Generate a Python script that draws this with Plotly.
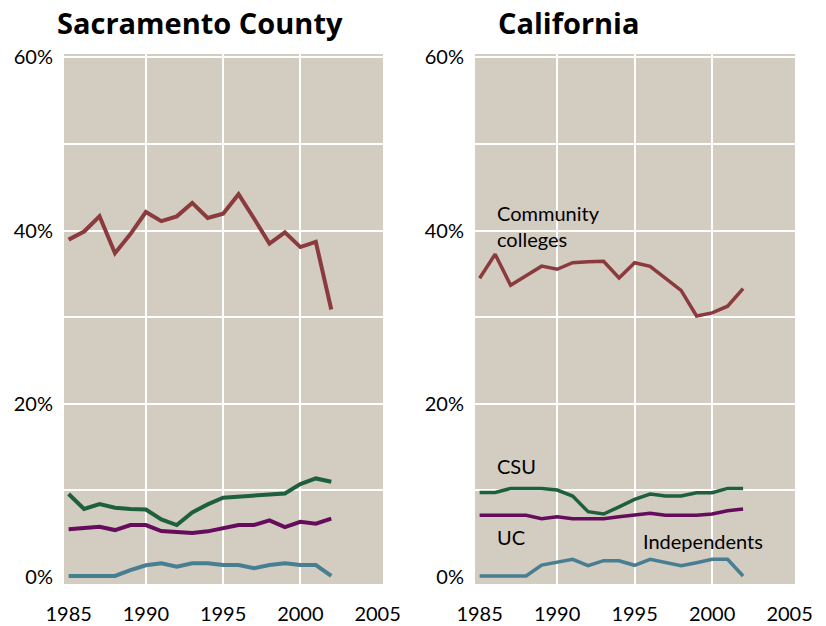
import plotly.graph_objects as go

years = list(range(1985, 2003))

sac_cc = [38.96, 39.9, 41.65, 37.4, 39.6, 42.15, 41.1, 41.65, 43.2, 41.46, 41.96, 44.2, 41.4, 38.5, 39.8, 38.1, 38.7, 30.9]
sac_csu = [9.58, 7.85, 8.42, 8.0, 7.85, 7.8, 6.65, 6.0, 7.46, 8.38, 9.15, 9.3, 9.42, 9.5, 9.65, 10.73, 11.38, 11.0]
sac_uc = [5.5, 5.65, 5.8, 5.42, 6.0, 6.0, 5.3, 5.19, 5.08, 5.27, 5.6, 6.0, 6.0, 6.54, 5.77, 6.38, 6.15, 6.73]
sac_ind = [0.12, 0.12, 0.12, 0.12, 0.8, 1.35, 1.58, 1.19, 1.58, 1.58, 1.38, 1.38, 1.0, 1.38, 1.58, 1.38, 1.38, 0.12]

ca_cc = [34.5, 37.27, 33.7, 34.85, 35.9, 35.54, 36.3, 36.4, 36.46, 34.54, 36.3, 35.88, 34.46, 33.1, 30.15, 30.5, 31.27, 33.3]
ca_csu = [9.77, 9.77, 10.23, 10.23, 10.23, 10.04, 9.35, 7.54, 7.27, 8.1, 8.96, 9.58, 9.35, 9.35, 9.73, 9.73, 10.23, 10.23]
ca_uc = [7.12, 7.12, 7.12, 7.12, 6.73, 6.96, 6.73, 6.73, 6.73, 6.96, 7.15, 7.35, 7.12, 7.12, 7.12, 7.27, 7.65, 7.85]
ca_ind = [0.12, 0.12, 0.12, 0.12, 1.38, 1.69, 2.04, 1.3, 1.88, 1.88, 1.35, 2.04, 1.65, 1.3, 1.65, 2.04, 2.04, 0.12]

panel_titles = ["Sacramento County", "California"]
x_ticks = [1985, 1990, 1995, 2000, 2005]
y_ticks = [0, 20, 40, 60]
y_tick_text = ["0%", "20%", "40%", "60%"]

C_CC = "rgb(139,58,62)"
C_CSU = "rgb(30,96,62)"
C_UC = "rgb(102,12,92)"
C_IND = "rgb(72,126,146)"
BG = "rgb(211,204,193)"
FONT = "Lato"

fig = go.Figure()

panels = [
    ("x", "y", [sac_ind, sac_uc, sac_csu, sac_cc], 4),
    ("x2", "y2", [ca_ind, ca_uc, ca_csu, ca_cc], 3.5),
]
colors = [C_IND, C_UC, C_CSU, C_CC]
for xa, ya, series, w in panels:
    for s, c in zip(series, colors):
        fig.add_trace(go.Scatter(x=years, y=s, xaxis=xa, yaxis=ya, mode="lines",
                                 line=dict(color=c, width=w), showlegend=False,
                                 hoverinfo="skip"))

xcommon = dict(range=[1984.7, 2005.35], tickvals=x_ticks, ticktext=[str(v) for v in x_ticks],
               showgrid=False, zeroline=False, showline=False, ticks="", automargin=False,
               ticklabelstandoff=16,
               tickfont=dict(family=FONT, size=20, color="black"),
               minor=dict(tickmode="array", tickvals=[1990, 1995, 2000], showgrid=True,
                          gridcolor="white", gridwidth=2, ticks=""))
ycommon = dict(range=[-0.81, 60.4], tickvals=y_ticks, ticktext=y_tick_text,
               showgrid=False, zeroline=False, showline=False, ticks="", automargin=False,
               ticklabelstandoff=10,
               tickfont=dict(family=FONT, size=20, color="black"),
               minor=dict(tickmode="array", tickvals=[10, 20, 30, 40, 50, 60], showgrid=True,
                          gridcolor="white", gridwidth=2, ticks=""))

fig.update_layout(
    width=826, height=626,
    margin=dict(l=64, r=31, t=54, b=42),
    paper_bgcolor="white",
    plot_bgcolor=BG,
    xaxis=dict(domain=[0, 0.4364], anchor="y", **xcommon),
    yaxis=dict(domain=[0, 1], anchor="x", **ycommon),
    xaxis2=dict(domain=[0.5622, 1], anchor="y2", **xcommon),
    yaxis2=dict(domain=[0, 1], anchor="x2", **ycommon),
    font=dict(family=FONT, color="black"),
)

TITLE_Y = 1 + (54 - 22) / 530
fig.add_annotation(text="<b>" + panel_titles[0] + "</b>", xref="paper", yref="paper",
                   x=(55 - 64) / 731, y=TITLE_Y, xanchor="left", yanchor="middle", showarrow=False,
                   font=dict(family="Open Sans", size=29, color="black", weight=800))
fig.add_annotation(text="<b>" + panel_titles[1] + "</b>", xref="paper", yref="paper",
                   x=(496 - 64) / 731, y=TITLE_Y, xanchor="left", yanchor="middle", showarrow=False,
                   font=dict(family="Open Sans", size=29, color="black", weight=800))

labels = [
    ("Community<br>colleges", 1986.0, 40.5),
    ("CSU", 1986.0, 12.8),
    ("UC", 1986.0, 4.6),
    ("Independents", 1995.4, 4.16),
]
for t, xv, yv in labels:
    fig.add_annotation(text=t, x=xv, y=yv, xref="x2", yref="y2", xanchor="left",
                       yanchor="middle", showarrow=False, align="left",
                       font=dict(family=FONT, size=20, color="black"))

fig.write_html("out.html", config={"displayModeBar": False},
               post_script="document.body.style.margin='0';")
